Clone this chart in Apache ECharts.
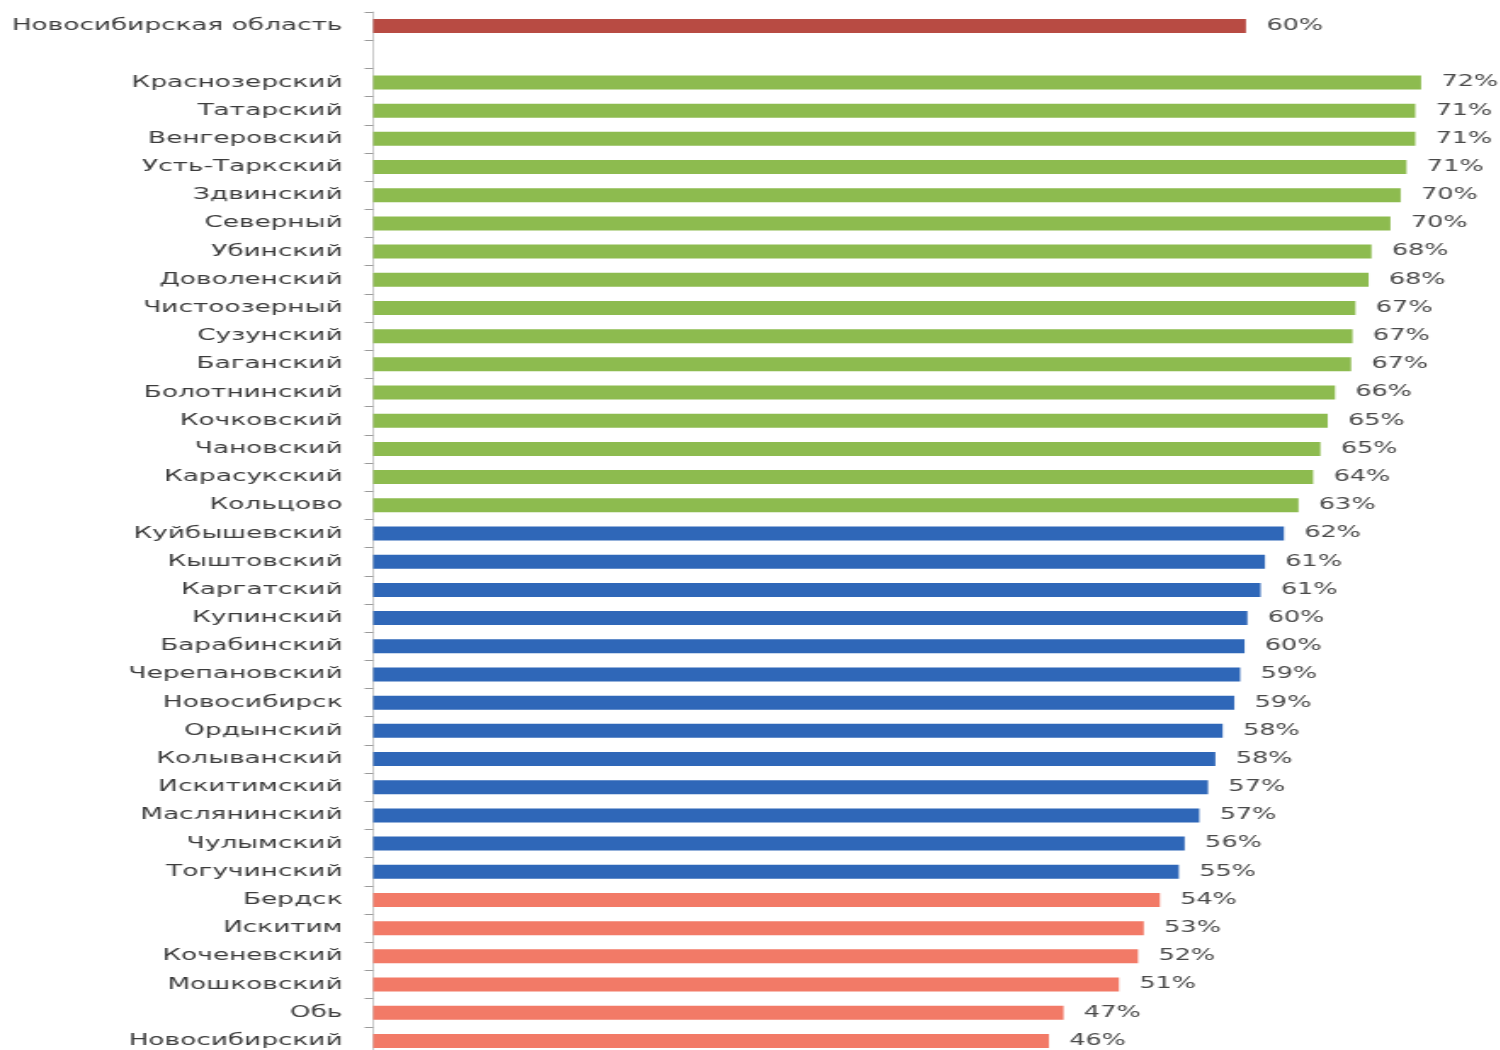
<!DOCTYPE html>
<html>
<head>
<meta charset="utf-8">
<script src="https://cdn.jsdelivr.net/npm/echarts@6/dist/echarts.min.js"></script>
<style>
  html, body { margin: 0; padding: 0; background: #ffffff; overflow: hidden; }
  #wrap { width: 1500px; height: 1050px; overflow: hidden; position: relative; }
  #chart { width: 882px; height: 1100px; transform: scaleX(1.7); transform-origin: 0 0; }
</style>
</head>
<body>
<div id="wrap"><div id="chart"></div></div>
<script>
// ---- data ----
const regionCats = ['Новосибирская область'];
const regionVals = [59.8];

const greenCats = ['Краснозерский', 'Татарский', 'Венгеровский', 'Усть-Таркский', 'Здвинский',
  'Северный', 'Убинский', 'Доволенский', 'Чистоозерный', 'Сузунский', 'Баганский',
  'Болотнинский', 'Кочковский', 'Чановский', 'Карасукский', 'Кольцово'];
const greenVals = [71.8, 71.4, 71.4, 70.8, 70.4, 69.7, 68.4, 68.2, 67.3, 67.1, 67.0,
  65.9, 65.4, 64.9, 64.4, 63.4];

const blueCats = ['Куйбышевский', 'Кыштовский', 'Каргатский', 'Купинский', 'Барабинский',
  'Черепановский', 'Новосибирск', 'Ордынский', 'Колыванский', 'Искитимский',
  'Маслянинский', 'Чулымский', 'Тогучинский'];
const blueVals = [62.4, 61.1, 60.8, 59.9, 59.7, 59.4, 59.0, 58.2, 57.7, 57.2, 56.6, 55.6, 55.2];

const salmonCats = ['Бердск', 'Искитим', 'Коченевский', 'Мошковский', 'Обь', 'Новосибирский'];
const salmonVals = [53.9, 52.8, 52.4, 51.1, 47.3, 46.3];

// ---- build ----
const categories = [...regionCats, '', ...greenCats, ...blueCats, ...salmonCats];
const groups = [
  { cats: regionCats, vals: regionVals, color: '#b84b43' },
  { cats: [''], vals: [null], color: '#ffffff' },
  { cats: greenCats, vals: greenVals, color: '#8dbb4f' },
  { cats: blueCats, vals: blueVals, color: '#2f67b8' },
  { cats: salmonCats, vals: salmonVals, color: '#f27a67' }
];

const series = [];
let offset = 0;
groups.forEach((g, gi) => {
  const data = categories.map(() => '-');
  g.vals.forEach((v, i) => { data[offset + i] = (v == null ? '-' : v); });
  offset += g.cats.length;
  if (gi === 1) return;
  series.push({
    type: 'bar',
    stack: 'all',
    barWidth: 14,
    data: data,
    itemStyle: { color: g.color },
    label: {
      show: true,
      position: 'right',
      distance: 12,
      formatter: p => Math.round(p.value) + '%',
      fontFamily: 'DejaVu Sans',
      fontSize: 15,
      color: '#4a4a4a'
    }
  });
});

const chart = echarts.init(document.getElementById('chart'), null, { renderer: 'canvas' });
chart.setOption({
  backgroundColor: '#ffffff',
  animation: false,
  grid: { left: 219.5, right: 10, top: 12, height: 1043, containLabel: false },
  xAxis: {
    type: 'value',
    min: 0,
    max: 76,
    show: false
  },
  yAxis: {
    type: 'category',
    inverse: true,
    data: categories,
    axisLine: { show: true, lineStyle: { color: '#c8c8c8', width: 1 } },
    axisTick: { show: true, length: 5, lineStyle: { color: '#9a9a9a' } },
    axisLabel: {
      margin: 18,
      fontFamily: 'DejaVu Sans',
      fontSize: 15.5,
      color: '#3c3c3c'
    },
    splitLine: { show: false }
  },
  series: series
});
</script>
</body>
</html>
